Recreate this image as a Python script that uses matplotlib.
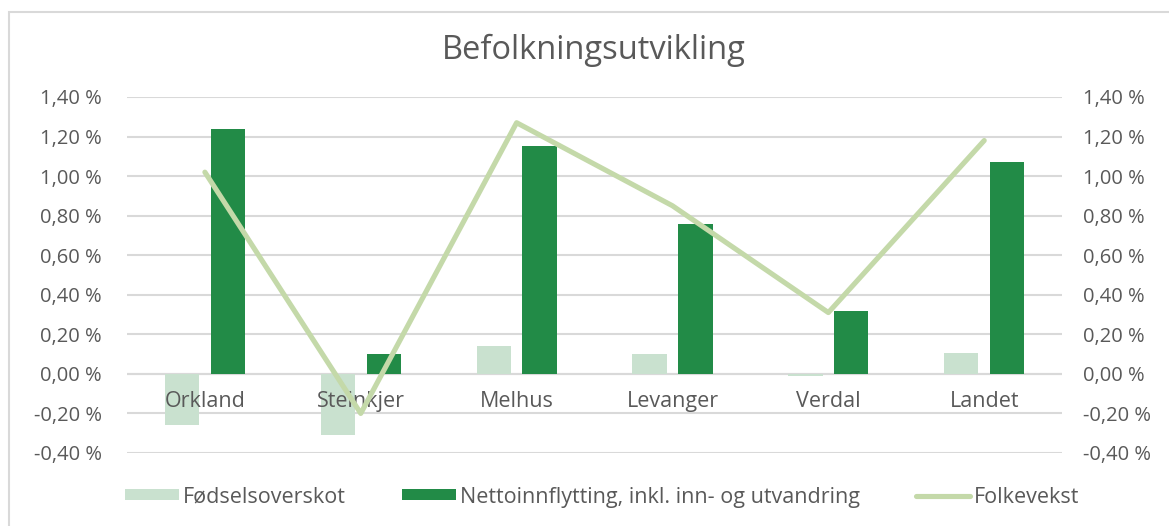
import matplotlib.pyplot as plt
import numpy as np
from matplotlib.patches import Rectangle
from matplotlib.ticker import FuncFormatter

plt.rcParams['font.family'] = ['Open Sans', 'DejaVu Sans']

kommuner = ["Orkland", "Steinkjer", "Melhus", "Levanger", "Verdal", "Landet"]
fodselsoverskot = [-0.26, -0.31, 0.14, 0.10, -0.01, 0.105]
nettoinnflytting = [1.24, 0.10, 1.15, 0.76, 0.32, 1.07]
folkevekst = [1.02, -0.20, 1.27, 0.85, 0.31, 1.18]

light = "#c9e1cf"
dark = "#228b47"
line_col = "#c4d9a9"
grid_col = "#d9d9d9"
txt_col = "#595959"

fig = plt.figure(figsize=(11.69, 5.26), dpi=100)
# chart frame (only left and top edges fall inside the picture)
fig.patches.append(Rectangle((0.008, -0.05), 1.05, 1.027, transform=fig.transFigure,
                             fill=False, edgecolor="#d9d9d9", linewidth=1.5))
ax = fig.add_axes([0.1086, 0.1388, 0.800, 0.6768])
ax2 = ax.twinx()

x = np.arange(len(kommuner))
w = 0.22
ax.bar(x - 0.147, fodselsoverskot, w, color=light, label="Fødselsoverskot", zorder=2)
ax.bar(x + 0.147, nettoinnflytting, w, color=dark, label="Nettoinnflytting, inkl. inn- og utvandring", zorder=2)
ln, = ax2.plot(x, folkevekst, color=line_col, linewidth=3.7, solid_capstyle="round",
               label="Folkevekst", zorder=3)

fmt = FuncFormatter(lambda v, p: f"{v:.2f} %".replace(".", ",").replace("-0,00", "0,00"))
for a in (ax, ax2):
    a.set_ylim(-0.4, 1.4)
    a.set_yticks(np.arange(-0.4, 1.41, 0.2))
    a.yaxis.set_major_formatter(fmt)
    a.tick_params(axis="y", length=0, labelsize=14.5, labelcolor=txt_col)
    for s in a.spines.values():
        s.set_visible(False)
ax.tick_params(axis="y", pad=18)
ax2.tick_params(axis="y", pad=15)
ax.set_xlim(-0.5, len(kommuner) - 0.5)
ax.yaxis.grid(True, color=grid_col, linewidth=1.5, zorder=0)
ax.set_axisbelow(True)
ax.axhline(0, color=grid_col, linewidth=1.5, zorder=1)
ax.set_xticks([])

# category labels sit just under the zero line, drawn over the bars
for xi, name in zip(x, kommuner):
    ax.annotate(name, (xi, 0), xytext=(0, -20), textcoords="offset points",
                ha="center", va="center", fontsize=15.5, color=txt_col, zorder=5)

fig.text(0.508, 0.905, "Befolkningsutvikling", ha="center", va="center",
         fontsize=23.5, color=txt_col)

h1, l1 = ax.get_legend_handles_labels()
fig.legend(h1 + [ln], l1 + ["Folkevekst"], loc="center", bbox_to_anchor=(0.515, 0.055),
           ncol=3, frameon=False, fontsize=15.5, labelcolor=txt_col,
           handlelength=2.5, handleheight=0.42, columnspacing=2.6, handletextpad=0.2)

fig.savefig("out.png", dpi=100)
